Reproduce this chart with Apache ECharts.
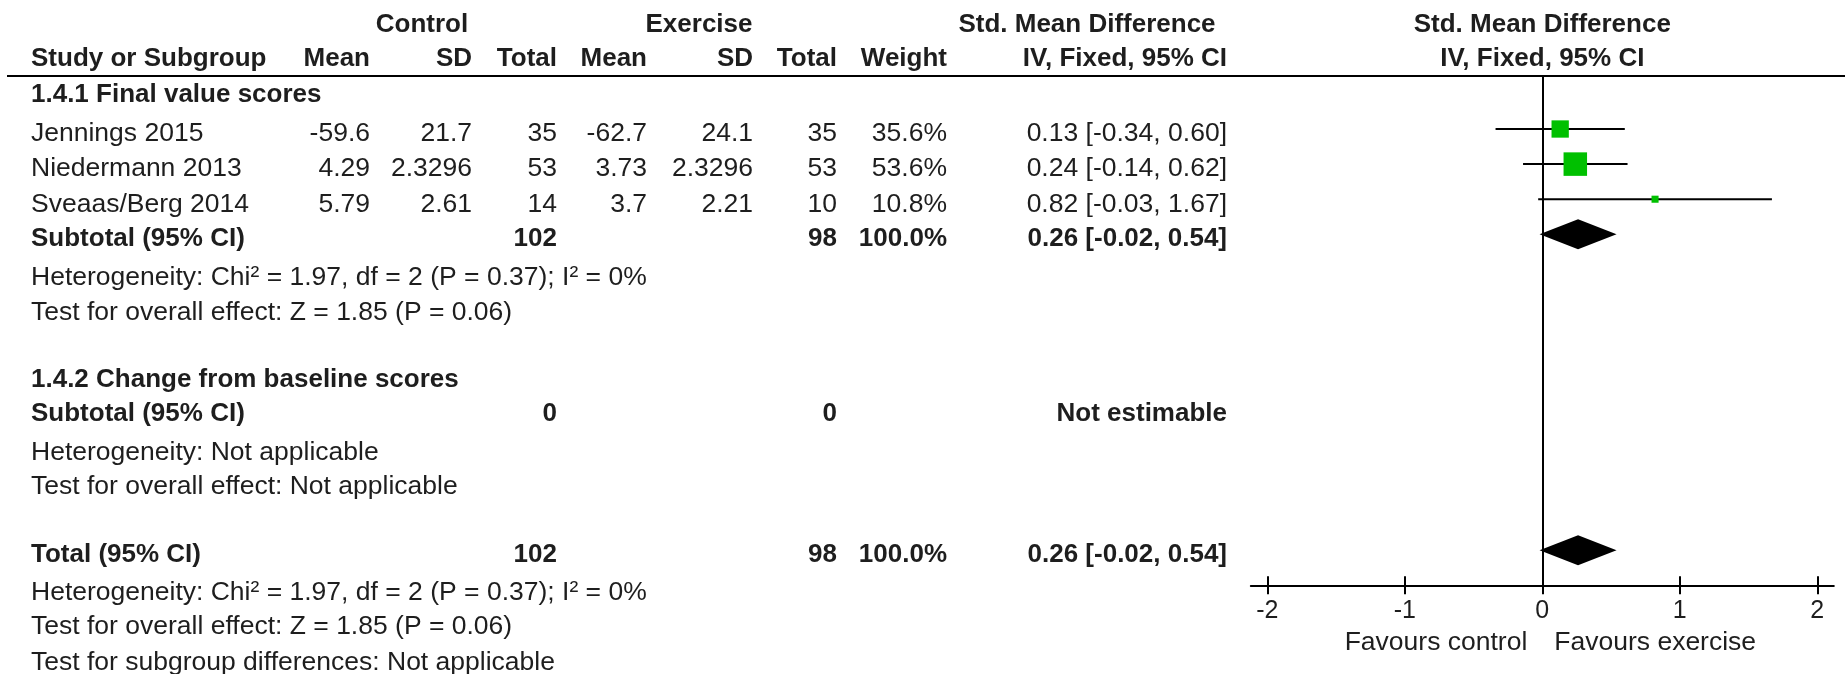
<!DOCTYPE html>
<html>
<head>
<meta charset="utf-8">
<title>Forest plot – Std. Mean Difference</title>
<script src="https://cdn.jsdelivr.net/npm/echarts@6/dist/echarts.min.js"></script>
<style>
  html, body { margin: 0; padding: 0; background: #fff; }
  #chart { width: 1845px; height: 674px; }
</style>
</head>
<body>
<div id="chart"></div>
<script>
// ---- Study data -------------------------------------------------------
const studyNames   = ['Jennings 2015', 'Niedermann 2013', 'Sveaas/Berg 2014'];
const controlMean  = [-59.6, 4.29, 5.79];
const controlSD    = [21.7, 2.3296, 2.61];
const controlN     = [35, 53, 14];
const exerciseMean = [-62.7, 3.73, 3.7];
const exerciseSD   = [24.1, 2.3296, 2.21];
const exerciseN    = [35, 53, 10];
const weights      = [35.6, 53.6, 10.8];
const smd          = [0.13, 0.24, 0.82];
const ciLow        = [-0.34, -0.14, -0.03];
const ciHigh       = [0.60, 0.62, 1.67];

// Pooled results (subgroup 1.4.1 and overall)
const subtotalControlN  = 102;
const subtotalExerciseN = 98;
const subtotalWeight    = 100.0;
const pooledSMD  = 0.26;
const pooledLow  = -0.02;
const pooledHigh = 0.54;

// Forest axis ticks
const axisTicks = [-2, -1, 0, 1, 2];

// Row slots on the forest y axis (one slot per table line)
const studyRows   = [0, 1, 2];
const subtotalRow = 3;
const totalRow    = 12;

// ---- Layout -----------------------------------------------------------
const FAMILY = '"Liberation Sans", Arial, sans-serif';
const FONT_R = '26.5px ' + FAMILY;
const FONT_B = 'bold 26px ' + FAMILY;
const INK = '#1e1e1e';
const colRight = { cMean: 370, cSD: 472, cN: 557, eMean: 647, eSD: 753, eN: 837, w: 947, ci: 1227 };
const textLeft = 31;

const chart = echarts.init(document.getElementById('chart'), null, { renderer: 'canvas' });

function fmt2(v) { return v.toFixed(2); }
function ciText(e, l, h) { return fmt2(e) + ' [' + fmt2(l) + ', ' + fmt2(h) + ']'; }

function txt(text, x, y, opts) {
  opts = opts || {};
  return {
    type: 'text', silent: true,
    style: {
      text: text, x: x, y: y,
      font: opts.bold ? FONT_B : FONT_R,
      fill: INK,
      align: opts.align || 'left',
      verticalAlign: 'middle'
    }
  };
}

const studySeriesData = studyRows.map((r, i) => [r, smd[i], ciLow[i], ciHigh[i], weights[i]]);
const diamondData = [
  [subtotalRow, pooledSMD, pooledLow, pooledHigh],
  [totalRow, pooledSMD, pooledLow, pooledHigh]
];

const option = {
  animation: false,
  backgroundColor: '#fff',
  grid: { left: 1250.8, width: 583, top: 76.35, height: 509 },
  xAxis: [
    {
      type: 'value', min: -2.12, max: 2.12, position: 'bottom',
      axisLine: { show: true, onZero: false, lineStyle: { color: '#000', width: 2 } },
      axisTick: { show: true, customValues: axisTicks, length: 9, lineStyle: { color: '#000', width: 2 } },
      axisLabel: {
        show: true, customValues: axisTicks, margin: 13,
        fontFamily: FAMILY, fontSize: 25, color: INK
      },
      splitLine: { show: false }
    },
    {
      type: 'value', min: -2.12, max: 2.12, position: 'bottom',
      axisLine: { show: false, onZero: false },
      axisTick: { show: true, inside: true, customValues: axisTicks, length: 9, lineStyle: { color: '#000', width: 2 } },
      axisLabel: { show: false },
      splitLine: { show: false }
    }
  ],
  yAxis: {
    type: 'value', min: -1.5, max: 13, inverse: true,
    axisLine: { show: true, onZero: true, onZeroAxisIndex: 0, lineStyle: { color: '#000', width: 2 } },
    axisTick: { show: false }, axisLabel: { show: false }, splitLine: { show: false }
  },
  series: [
    {
      name: 'Studies', type: 'custom', xAxisIndex: 0,
      data: studySeriesData,
      encode: { x: [1, 2, 3], y: 0 },
      renderItem: function (params, api) {
        const row = api.value(0), est = api.value(1), lo = api.value(2), hi = api.value(3), w = api.value(4);
        const pLo = api.coord([lo, row]);
        const pHi = api.coord([hi, row]);
        const pE = api.coord([est, row]);
        // square side grows with study weight
        const side = 1.187 * Math.pow(w, 0.75);
        return {
          type: 'group',
          children: [
            { type: 'line', shape: { x1: pLo[0], y1: pLo[1], x2: pHi[0], y2: pHi[1] },
              style: { stroke: '#000', lineWidth: 2 } },
            { type: 'rect', shape: { x: pE[0] - side / 2, y: pE[1] - side / 2, width: side, height: side },
              style: { fill: '#00c000' } }
          ]
        };
      }
    },
    {
      name: 'Pooled', type: 'custom', xAxisIndex: 0,
      data: diamondData,
      encode: { x: [1, 2, 3], y: 0 },
      renderItem: function (params, api) {
        const row = api.value(0), est = api.value(1), lo = api.value(2), hi = api.value(3);
        const pLo = api.coord([lo, row]);
        const pHi = api.coord([hi, row]);
        const pE = api.coord([est, row]);
        const h = 15;
        return {
          type: 'polygon',
          shape: { points: [[pLo[0], pLo[1]], [pE[0], pE[1] - h], [pHi[0], pHi[1]], [pE[0], pE[1] + h]] },
          style: { fill: '#000' }
        };
      }
    }
  ]
};

chart.setOption(option);

// ---- Table text, aligned on the forest rows ----------------------------
const rowY = r => chart.convertToPixel({ yAxisIndex: 0 }, r) + 5;
const zeroX = chart.convertToPixel({ xAxisIndex: 0 }, 0);

const g = [];
// header rule
g.push({ type: 'line', silent: true, shape: { x1: 7, y1: 76, x2: 1845, y2: 76 }, style: { stroke: '#000', lineWidth: 2 } });

// header rows
const H1 = 25, H2 = 59;
g.push(txt('Control', 422, H1, { bold: true, align: 'center' }));
g.push(txt('Exercise', 699, H1, { bold: true, align: 'center' }));
g.push(txt('Std. Mean Difference', 1087, H1, { bold: true, align: 'center' }));
g.push(txt('Std. Mean Difference', zeroX, H1, { bold: true, align: 'center' }));
g.push(txt('Study or Subgroup', textLeft, H2, { bold: true }));
g.push(txt('Mean', colRight.cMean, H2, { bold: true, align: 'right' }));
g.push(txt('SD', colRight.cSD, H2, { bold: true, align: 'right' }));
g.push(txt('Total', colRight.cN, H2, { bold: true, align: 'right' }));
g.push(txt('Mean', colRight.eMean, H2, { bold: true, align: 'right' }));
g.push(txt('SD', colRight.eSD, H2, { bold: true, align: 'right' }));
g.push(txt('Total', colRight.eN, H2, { bold: true, align: 'right' }));
g.push(txt('Weight', colRight.w, H2, { bold: true, align: 'right' }));
g.push(txt('IV, Fixed, 95% CI', colRight.ci, H2, { bold: true, align: 'right' }));
g.push(txt('IV, Fixed, 95% CI', zeroX, H2, { bold: true, align: 'center' }));

// subgroup 1.4.1
g.push(txt('1.4.1 Final value scores', textLeft, 95, { bold: true }));
studyRows.forEach((r, i) => {
  const y = rowY(r);
  g.push(txt(studyNames[i], textLeft, y));
  g.push(txt(String(controlMean[i]), colRight.cMean, y, { align: 'right' }));
  g.push(txt(String(controlSD[i]), colRight.cSD, y, { align: 'right' }));
  g.push(txt(String(controlN[i]), colRight.cN, y, { align: 'right' }));
  g.push(txt(String(exerciseMean[i]), colRight.eMean, y, { align: 'right' }));
  g.push(txt(String(exerciseSD[i]), colRight.eSD, y, { align: 'right' }));
  g.push(txt(String(exerciseN[i]), colRight.eN, y, { align: 'right' }));
  g.push(txt(weights[i].toFixed(1) + '%', colRight.w, y, { align: 'right' }));
  g.push(txt(ciText(smd[i], ciLow[i], ciHigh[i]), colRight.ci, y, { align: 'right' }));
});
let y = rowY(subtotalRow);
g.push(txt('Subtotal (95% CI)', textLeft, y, { bold: true }));
g.push(txt(String(subtotalControlN), colRight.cN, y, { bold: true, align: 'right' }));
g.push(txt(String(subtotalExerciseN), colRight.eN, y, { bold: true, align: 'right' }));
g.push(txt(subtotalWeight.toFixed(1) + '%', colRight.w, y, { bold: true, align: 'right' }));
g.push(txt(ciText(pooledSMD, pooledLow, pooledHigh), colRight.ci, y, { bold: true, align: 'right' }));
g.push(txt('Heterogeneity: Chi² = 1.97, df = 2 (P = 0.37); I² = 0%', textLeft, 278));
g.push(txt('Test for overall effect: Z = 1.85 (P = 0.06)', textLeft, 313));

// subgroup 1.4.2
g.push(txt('1.4.2 Change from baseline scores', textLeft, 380, { bold: true }));
g.push(txt('Subtotal (95% CI)', textLeft, 414, { bold: true }));
g.push(txt('0', colRight.cN, 414, { bold: true, align: 'right' }));
g.push(txt('0', colRight.eN, 414, { bold: true, align: 'right' }));
g.push(txt('Not estimable', colRight.ci, 414, { bold: true, align: 'right' }));
g.push(txt('Heterogeneity: Not applicable', textLeft, 453));
g.push(txt('Test for overall effect: Not applicable', textLeft, 487));

// overall
y = rowY(totalRow);
g.push(txt('Total (95% CI)', textLeft, y, { bold: true }));
g.push(txt(String(subtotalControlN), colRight.cN, y, { bold: true, align: 'right' }));
g.push(txt(String(subtotalExerciseN), colRight.eN, y, { bold: true, align: 'right' }));
g.push(txt(subtotalWeight.toFixed(1) + '%', colRight.w, y, { bold: true, align: 'right' }));
g.push(txt(ciText(pooledSMD, pooledLow, pooledHigh), colRight.ci, y, { bold: true, align: 'right' }));
g.push(txt('Heterogeneity: Chi² = 1.97, df = 2 (P = 0.37); I² = 0%', textLeft, 593));
g.push(txt('Test for overall effect: Z = 1.85 (P = 0.06)', textLeft, 627));
g.push(txt('Test for subgroup differences: Not applicable', textLeft, 663));

// axis captions either side of zero
g.push(txt('Favours control', zeroX - 15, 643, { align: 'right' }));
g.push(txt('Favours exercise', zeroX + 12, 643, { align: 'left' }));

chart.setOption({ graphic: { elements: g } });
</script>
</body>
</html>
